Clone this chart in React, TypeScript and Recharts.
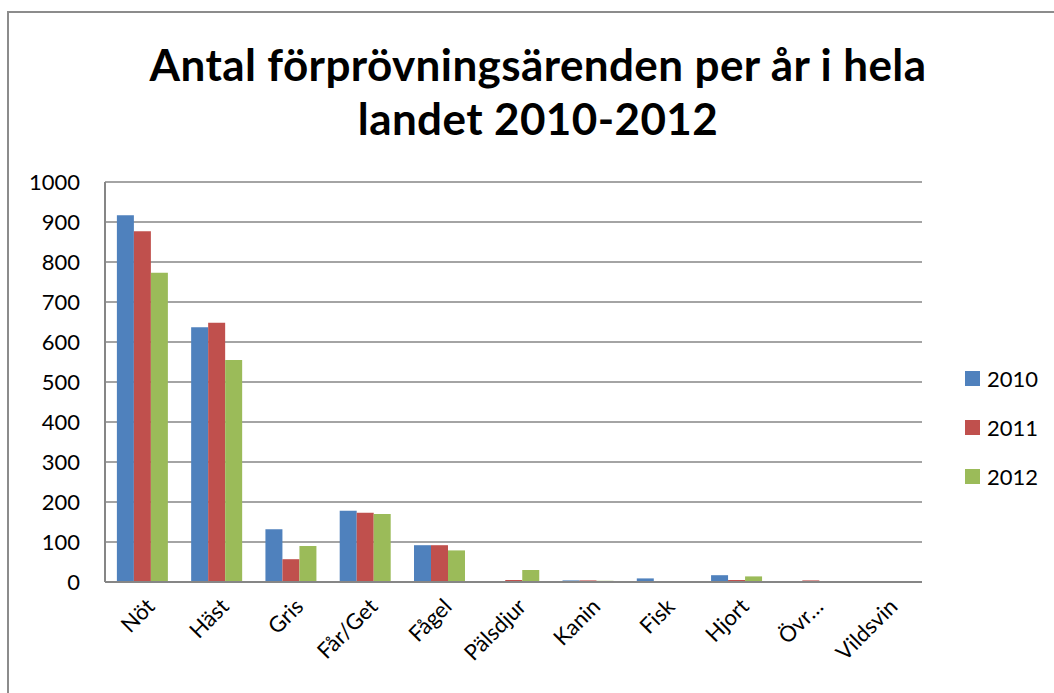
import React from "react";
import { Bar, BarChart, CartesianGrid, Legend, XAxis, YAxis } from "recharts";

const categories = ["Nöt", "Häst", "Gris", "Får/Get", "Fågel", "Pälsdjur", "Kanin", "Fisk", "Hjort", "Övr…", "Vildsvin"];
const values2010 = [917, 637, 132, 178, 92, 0, 4, 9, 17, 0, 0];
const values2011 = [877, 648, 57, 173, 92, 5, 4, 0, 5, 4, 0];
const values2012 = [773, 555, 90, 170, 79, 30, 3, 0, 14, 2, 0];
const yTicks = [0, 100, 200, 300, 400, 500, 600, 700, 800, 900, 1000];

const series = [
  { key: "y2010", name: "2010", color: "#4F81BD" },
  { key: "y2011", name: "2011", color: "#C0504D" },
  { key: "y2012", name: "2012", color: "#9BBB59" },
];

const data = categories.map((name, i) => ({
  name,
  y2010: values2010[i],
  y2011: values2011[i],
  y2012: values2012[i],
}));

const FONT = "Lato, 'Open Sans', sans-serif";
const AXIS = "#868686";

// legend drawn by hand to get Excel-like spacing
const LegendBox = () => (
  <div style={{ fontFamily: FONT, fontSize: 22, color: "#000" }}>
    {series.map((s) => (
      <div key={s.key} style={{ display: "flex", alignItems: "center", height: 49 }}>
        <span style={{ width: 15, height: 15, background: s.color, marginRight: 7, display: "inline-block" }} />
        <span>{s.name}</span>
      </div>
    ))}
  </div>
);

const XTick = (props: any) => {
  const { x, y, payload } = props;
  return (
    <g transform={`translate(${x + 8},${y + 12})`}>
      <text
        transform="rotate(-45)"
        textAnchor="end"
        dominantBaseline="central"
        fontFamily={FONT}
        fontSize={22}
        fill="#000"
      >
        {payload.value}
      </text>
    </g>
  );
};

export default function App() {
  return (
    <div style={{ position: "fixed", left: 0, top: 0, width: 1054, height: 693, overflow: "hidden", background: "#fff" }}>
      <div
        style={{
          position: "absolute",
          left: 7,
          top: 11,
          width: 1200,
          height: 900,
          border: "2px solid #8c8c8c",
          boxSizing: "border-box",
        }}
      />
      <div
        style={{
          position: "absolute",
          left: 0,
          top: 37,
          width: 1076,
          textAlign: "center",
          fontFamily: FONT,
          fontWeight: 700,
          fontSize: 44,
          letterSpacing: 0.4,
          lineHeight: "54px",
          color: "#000",
        }}
      >
        Antal förprövningsärenden per år i hela
        <br />
        landet 2010-2012
      </div>
      <div style={{ position: "absolute", left: 0, top: 0 }}>
        <BarChart
          width={1054}
          height={693}
          data={data}
          margin={{ top: 182, right: 132, bottom: 0, left: 0 }}
          barGap={0}
          barCategoryGap="16%"
        >
          <CartesianGrid vertical={false} stroke={AXIS} strokeWidth={1.5} />
          <XAxis
            dataKey="name"
            interval={0}
            tick={<XTick />}
            tickLine={false}
            axisLine={{ stroke: AXIS, strokeWidth: 2 }}
            height={111}
          />
          <YAxis
            width={105}
            domain={[0, 1000]}
            ticks={yTicks}
            interval={0}
            tickSize={0}
            tickMargin={25}
            tickLine={false}
            axisLine={{ stroke: AXIS, strokeWidth: 2 }}
            tick={{ fontFamily: FONT, fontSize: 22, fill: "#000" }}
          />
          <Legend
            layout="vertical"
            align="center"
            verticalAlign="middle"
            content={<LegendBox />}
            wrapperStyle={{ left: 965, top: 354, width: 90 }}
          />
          {series.map((s) => (
            <Bar key={s.key} dataKey={s.key} name={s.name} fill={s.color} isAnimationActive={false} />
          ))}
        </BarChart>
      </div>
    </div>
  );
}
